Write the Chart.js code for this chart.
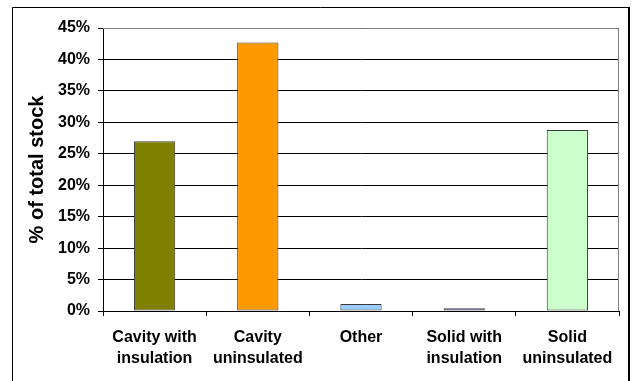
<!DOCTYPE html>
<html>
<head>
<meta charset="utf-8">
<title>Wall type share of stock</title>
<script src="https://cdn.jsdelivr.net/npm/chart.js@4.4.0/dist/chart.umd.min.js"></script>
<style>
  html, body { margin: 0; padding: 0; background: #fff; }
  canvas { display: block; }
</style>
</head>
<body>
<canvas id="myChart" width="632" height="381"></canvas>
<script>
/* globals Chart:false */

// wall types and their share of the total stock (%)
var wallTypes = [
    ['Cavity with', 'insulation'],
    ['Cavity', 'uninsulated'],
    'Other',
    ['Solid with', 'insulation'],
    ['Solid', 'uninsulated']
];
var stockShare = [27.0, 42.7, 1.1, 0.45, 28.8];
var barColours = ['#808000', '#FF9900', '#99CCFF', '#CC99FF', '#CCFFCC'];
var yTicks = [0, 5, 10, 15, 20, 25, 30, 35, 40, 45];

var font = 'Liberation Sans, Arial, sans-serif';

// outer frame + grey plot border (top and right)
var frame = {
    id: 'frame',
    beforeDraw: function (chart) {
        var ctx = chart.ctx;
        ctx.save();
        ctx.fillStyle = '#fff';
        ctx.fillRect(0, 0, chart.width, chart.height);
        ctx.strokeStyle = '#000';
        ctx.lineWidth = 1;
        ctx.beginPath();
        ctx.moveTo(12.5, chart.height);
        ctx.lineTo(12.5, 7.5);
        ctx.lineTo(628, 7.5);
        ctx.stroke();
        ctx.lineWidth = 2;
        ctx.beginPath();
        ctx.moveTo(629, 7);
        ctx.lineTo(629, chart.height);
        ctx.stroke();
        ctx.restore();
    },
    afterDatasetsDraw: function (chart) {
        var a = chart.chartArea;
        var ctx = chart.ctx;
        ctx.save();
        ctx.strokeStyle = '#808080';
        ctx.lineWidth = 1;
        ctx.beginPath();
        ctx.moveTo(a.left, a.top + 0.5);
        ctx.lineTo(a.right - 0.5, a.top + 0.5);
        ctx.lineTo(a.right - 0.5, a.bottom);
        ctx.stroke();
        ctx.restore();
    }
};

var ctx = document.getElementById('myChart');

var myChart = new Chart(ctx, {
    type: 'bar',
    data: {
        labels: wallTypes,
        datasets: [{
            data: stockShare,
            backgroundColor: barColours,
            borderColor: '#3a3a3a',
            borderWidth: 1,
            borderSkipped: false,
            categoryPercentage: 1,
            barPercentage: 0.4
        }]
    },
    options: {
        responsive: false,
        animation: false,
        events: [],
        layout: { padding: { left: 13, top: 28, right: 13, bottom: 0 } },
        plugins: {
            legend: { display: false },
            tooltip: { enabled: false }
        },
        scales: {
            x: {
                afterFit: function (scale) { scale.height = 70; },
                grid: {
                    offset: true,
                    drawOnChartArea: false,
                    drawTicks: true,
                    tickLength: 5,
                    color: '#000'
                },
                border: { color: '#000', width: 1 },
                ticks: {
                    color: '#000',
                    padding: 11,
                    maxRotation: 0,
                    autoSkip: false,
                    font: { family: font, size: 16, weight: 'bold', lineHeight: 1.3 }
                }
            },
            y: {
                min: 0,
                max: 45,
                afterFit: function (scale) { scale.width = 90; },
                afterBuildTicks: function (scale) {
                    scale.ticks = yTicks.map(function (v) { return { value: v }; });
                },
                grid: {
                    color: '#000',
                    tickLength: 5
                },
                border: { color: '#000', width: 1 },
                ticks: {
                    color: '#000',
                    padding: 8,
                    font: { family: font, size: 16, weight: 'bold' },
                    callback: function (v) { return v + '%'; }
                },
                title: {
                    display: true,
                    text: '% of total stock',
                    color: '#000',
                    padding: { top: 12, bottom: 0 },
                    font: { family: font, size: 20, weight: 'bold' }
                }
            }
        }
    },
    plugins: [frame]
});
</script>
</body>
</html>
